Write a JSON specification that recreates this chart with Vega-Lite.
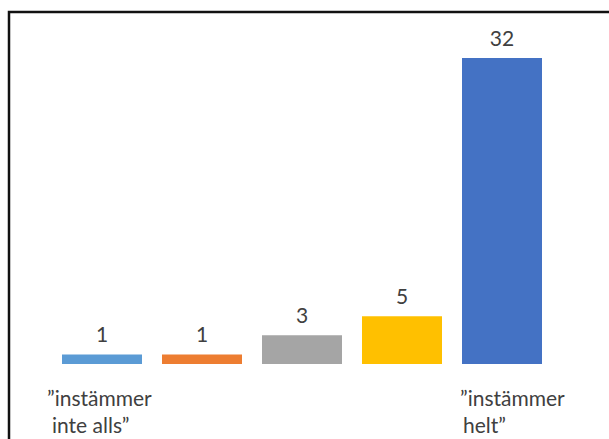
{
  "$schema": "https://vega.github.io/schema/vega-lite/v6.json",
  "width": 620,
  "height": 450,
  "autosize": {"type": "none"},
  "padding": {"left": 9, "top": 12, "right": 0, "bottom": 0},
  "background": "white",
  "config": {
    "view": {"stroke": "#111111", "strokeWidth": 2.5},
    "text": {"font": "Lato", "fontSize": 21, "color": "#404040"}
  },
  "data": {
    "values": [
      {"cat": "1", "value": 1, "label1": "\u201dinstämmer", "label2": "inte alls\u201d"},
      {"cat": "2", "value": 1, "label1": "", "label2": ""},
      {"cat": "3", "value": 3, "label1": "", "label2": ""},
      {"cat": "4", "value": 5, "label1": "", "label2": ""},
      {"cat": "5", "value": 32, "label1": "\u201dinstämmer", "label2": "helt\u201d"}
    ]
  },
  "encoding": {
    "x": {
      "field": "cat",
      "type": "nominal",
      "sort": null,
      "scale": {"range": [43, 543], "paddingInner": 0.2, "paddingOuter": 0.1},
      "axis": null
    }
  },
  "layer": [
    {
      "mark": {"type": "bar"},
      "encoding": {
        "y": {
          "field": "value",
          "type": "quantitative",
          "scale": {"domain": [0, 32], "range": [352, 46], "nice": false},
          "axis": null
        },
        "color": {
          "field": "cat",
          "type": "nominal",
          "scale": {"domain": ["1", "2", "3", "4", "5"], "range": ["#5B9BD5", "#ED7D31", "#A5A5A5", "#FFC000", "#4472C4"]},
          "legend": null
        }
      }
    },
    {
      "mark": {"type": "text", "baseline": "alphabetic", "dy": -12},
      "encoding": {
        "y": {"field": "value", "type": "quantitative"},
        "text": {"field": "value", "type": "quantitative"}
      }
    },
    {
      "transform": [{"filter": "datum.cat == '1'"}],
      "mark": {"type": "text", "align": "left", "baseline": "alphabetic", "dx": -55, "dy": 42},
      "encoding": {"y": {"datum": 0, "type": "quantitative"}, "text": {"field": "label1"}}
    },
    {
      "transform": [{"filter": "datum.cat == '1'"}],
      "mark": {"type": "text", "align": "left", "baseline": "alphabetic", "dx": -50, "dy": 69},
      "encoding": {"y": {"datum": 0, "type": "quantitative"}, "text": {"field": "label2"}}
    },
    {
      "transform": [{"filter": "datum.cat == '5'"}],
      "mark": {"type": "text", "align": "left", "baseline": "alphabetic", "dx": -42, "dy": 42},
      "encoding": {"y": {"datum": 0, "type": "quantitative"}, "text": {"field": "label1"}}
    },
    {
      "transform": [{"filter": "datum.cat == '5'"}],
      "mark": {"type": "text", "align": "left", "baseline": "alphabetic", "dx": -39, "dy": 69},
      "encoding": {"y": {"datum": 0, "type": "quantitative"}, "text": {"field": "label2"}}
    }
  ]
}
